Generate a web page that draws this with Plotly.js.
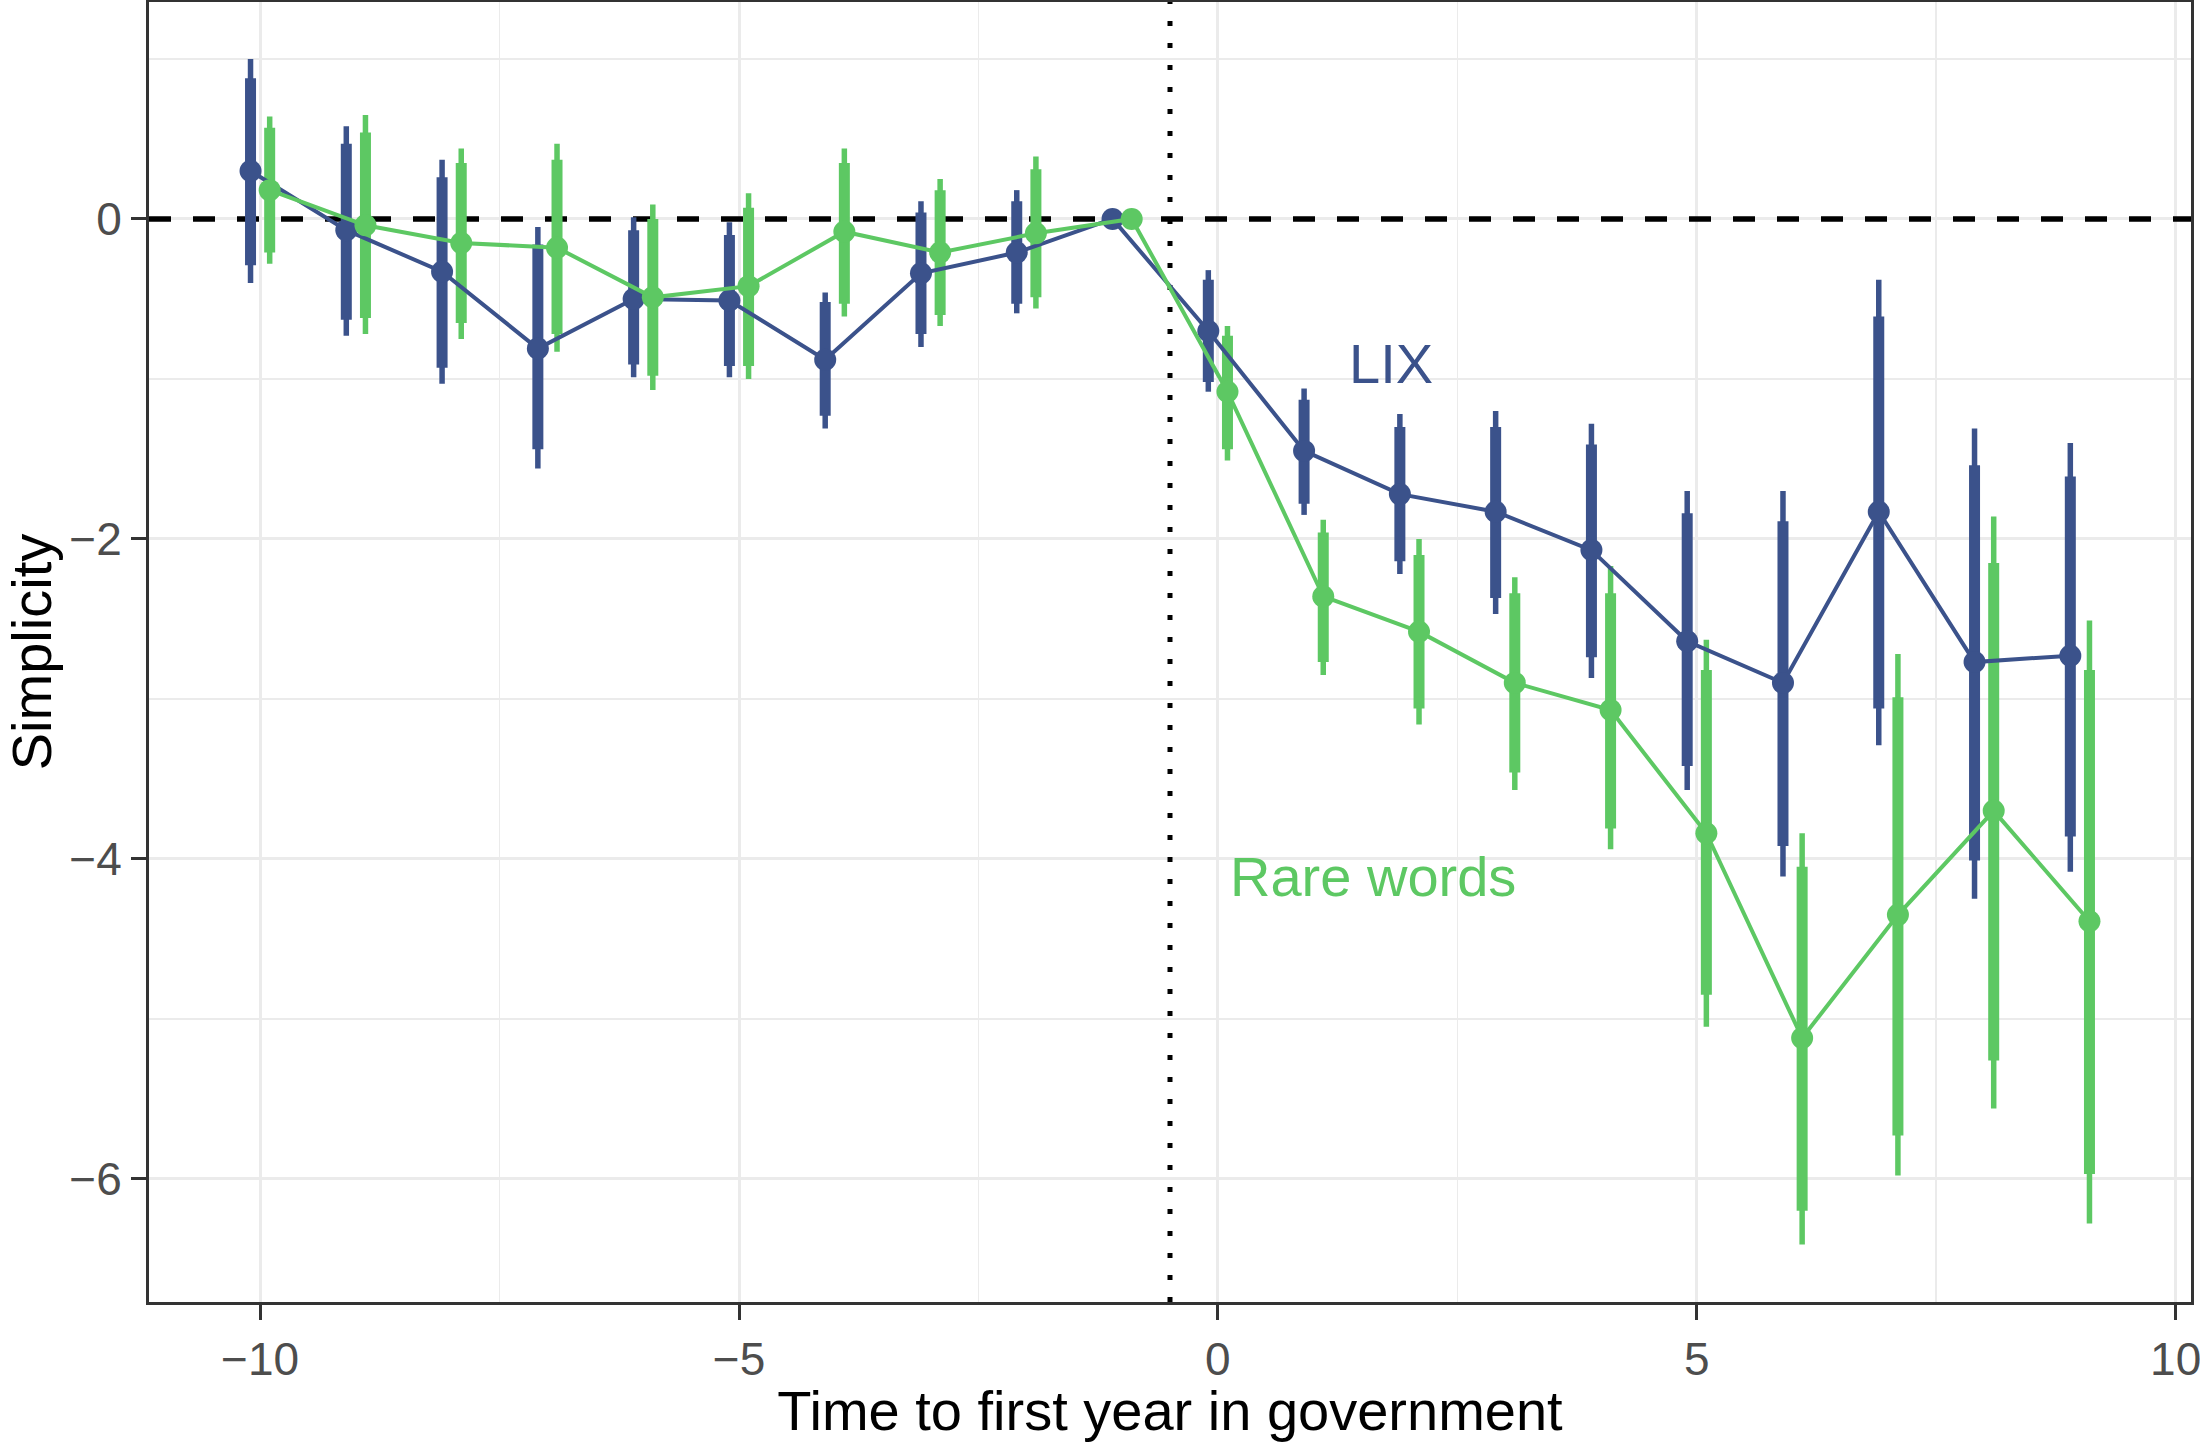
<!DOCTYPE html>
<html>
<head>
<meta charset="utf-8">
<script src="https://cdn.plot.ly/plotly-3.0.1.min.js"></script>
<style>
  html, body { margin: 0; padding: 0; background: #fff; }
  #chart { width: 2200px; height: 1442px; }
</style>
</head>
<body>
<div id="chart"></div>
<script>
// years relative to first year in government (-1 is the reference year)
const time = [-10, -9, -8, -7, -6, -5, -4, -3, -2, -1, 0, 1, 2, 3, 4, 5, 6, 7, 8, 9];

// LIX estimates with inner (thick) and outer (thin) intervals
const lixEst    = [0.30, -0.07, -0.33, -0.81, -0.50, -0.51, -0.88, -0.34, -0.21, 0, -0.70, -1.45, -1.72, -1.83, -2.07, -2.64, -2.90, -1.83, -2.77, -2.73];
const lixInLo   = [-0.29, -0.63, -0.93, -1.44, -0.91, -0.92, -1.23, -0.72, -0.53, 0, -1.02, -1.78, -2.14, -2.37, -2.74, -3.42, -3.92, -3.06, -4.01, -3.86];
const lixInHi   = [0.88, 0.47, 0.26, -0.16, -0.07, -0.10, -0.52, 0.04, 0.11, 0, -0.38, -1.13, -1.30, -1.30, -1.41, -1.84, -1.89, -0.61, -1.54, -1.61];
const lixOutLo  = [-0.40, -0.73, -1.03, -1.56, -0.99, -0.99, -1.31, -0.80, -0.59, 0, -1.08, -1.85, -2.22, -2.47, -2.87, -3.57, -4.11, -3.29, -4.25, -4.08];
const lixOutHi  = [1.00, 0.58, 0.37, -0.05, 0.01, -0.02, -0.46, 0.11, 0.18, 0, -0.32, -1.06, -1.22, -1.20, -1.28, -1.70, -1.70, -0.38, -1.31, -1.40];

// Rare words estimates
const rareEst   = [0.18, -0.04, -0.15, -0.18, -0.49, -0.42, -0.08, -0.21, -0.09, 0, -1.08, -2.36, -2.58, -2.90, -3.07, -3.84, -5.12, -4.35, -3.70, -4.39];
const rareInLo  = [-0.21, -0.62, -0.65, -0.72, -0.98, -0.92, -0.53, -0.60, -0.49, 0, -1.44, -2.77, -3.06, -3.46, -3.81, -4.85, -6.20, -5.73, -5.26, -5.97];
const rareInHi  = [0.57, 0.54, 0.35, 0.37, 0.00, 0.07, 0.35, 0.18, 0.31, 0, -0.73, -1.96, -2.10, -2.34, -2.34, -2.82, -4.05, -2.99, -2.15, -2.82];
const rareOutLo = [-0.28, -0.72, -0.75, -0.83, -1.07, -1.00, -0.61, -0.67, -0.56, 0, -1.51, -2.85, -3.16, -3.57, -3.94, -5.05, -6.41, -5.98, -5.56, -6.28];
const rareOutHi = [0.64, 0.65, 0.44, 0.47, 0.09, 0.16, 0.44, 0.25, 0.39, 0, -0.67, -1.88, -2.00, -2.24, -2.17, -2.63, -3.84, -2.72, -1.86, -2.51];

const xRange = [-11.16, 10.16];
const yRange = [-6.77, 1.356];

const blue = '#3b528b';
const green = '#5dc863';
const font = 'Liberation Sans, Arial, Helvetica, sans-serif';

function bars(x, est, lo, hi, color, thickness) {
  return {
    x: x, y: est, type: 'scatter', mode: 'markers',
    marker: { size: 1, opacity: 0 },
    hoverinfo: 'skip', showlegend: false,
    error_y: {
      type: 'data', symmetric: false,
      array: hi.map((h, i) => h - est[i]),
      arrayminus: lo.map((l, i) => est[i] - l),
      color: color, thickness: thickness, width: 0
    }
  };
}

function line(x, est, color) {
  return {
    x: x, y: est, type: 'scatter', mode: 'lines+markers',
    line: { color: color, width: 4 },
    marker: { color: color, size: 22 },
    showlegend: false
  };
}

const xLix = time.map(t => t - 0.1);
const xRare = time.map(t => t + 0.1);

const traces = [
  bars(xLix, lixEst, lixOutLo, lixOutHi, blue, 5.5),
  bars(xLix, lixEst, lixInLo, lixInHi, blue, 11),
  bars(xRare, rareEst, rareOutLo, rareOutHi, green, 5.5),
  bars(xRare, rareEst, rareInLo, rareInHi, green, 11),
  line(xLix, lixEst, blue),
  line(xRare, rareEst, green)
];

const layout = {
  width: 2200, height: 1442,
  margin: { l: 149, r: 9, t: 2, b: 140 },
  paper_bgcolor: '#ffffff', plot_bgcolor: '#ffffff',
  font: { family: font, color: '#000' },
  xaxis: {
    range: xRange, tick0: 0, dtick: 5,
    showgrid: true, gridcolor: '#ebebeb', gridwidth: 3,
    minor: { tick0: 0, dtick: 2.5, showgrid: true, gridcolor: '#ebebeb', gridwidth: 1.5 },
    zeroline: false,
    showline: true, mirror: true, linecolor: '#333333', linewidth: 3,
    ticks: 'outside', ticklen: 15, tickwidth: 3, tickcolor: '#333333',
    ticklabeloverflow: 'allow',
    tickfont: { size: 46, color: '#4d4d4d', family: font },
    title: { text: 'Time to first year in government', font: { size: 56, color: '#000', family: font }, standoff: 14 }
  },
  yaxis: {
    range: yRange, tick0: 0, dtick: 2,
    showgrid: true, gridcolor: '#ebebeb', gridwidth: 3,
    minor: { tick0: 0, dtick: 1, showgrid: true, gridcolor: '#ebebeb', gridwidth: 1.5 },
    zeroline: false,
    showline: true, mirror: true, linecolor: '#333333', linewidth: 3,
    ticks: 'outside', ticklen: 15, tickwidth: 3, tickcolor: '#333333',
    tickfont: { size: 46, color: '#4d4d4d', family: font },
    title: { text: 'Simplicity', font: { size: 56, color: '#000', family: font }, standoff: 40 }
  },
  shapes: [
    { type: 'line', layer: 'between', xref: 'x', x0: xRange[0], x1: xRange[1], yref: 'y', y0: 0, y1: 0,
      line: { color: '#000', width: 5.5, dash: '22px,22px' } },
    { type: 'line', layer: 'between', xref: 'x', x0: -0.5, x1: -0.5, yref: 'y', y0: yRange[0], y1: yRange[1],
      line: { color: '#000', width: 5, dash: '5px,17px' } }
  ],
  annotations: [
    { x: 1.81, y: -0.905, text: 'LIX', showarrow: false, xanchor: 'center', yanchor: 'middle',
      font: { size: 56, color: blue, family: font } },
    { x: 1.62, y: -4.11, text: 'Rare words', showarrow: false, xanchor: 'center', yanchor: 'middle',
      font: { size: 56, color: green, family: font } }
  ]
};

Plotly.newPlot('chart', traces, layout, { displayModeBar: false, staticPlot: true });
</script>
</body>
</html>
